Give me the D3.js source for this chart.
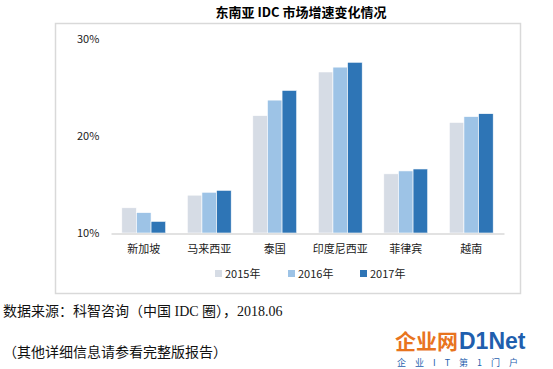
<!DOCTYPE html>
<html>
<head>
<meta charset="utf-8">
<script src="https://cdn.jsdelivr.net/npm/d3@7"></script>
<style>
  body { margin: 0; background: #fff; }
  text { font-family: "Noto Sans CJK SC", "Noto Sans", sans-serif; }
</style>
</head>
<body>
<div id="chart"></div>
<script>
const countries = ["新加坡", "马来西亚", "泰国", "印度尼西亚", "菲律宾", "越南"];
const years = ["2015年", "2016年", "2017年"];
const v2015 = [12.6, 13.9, 22.1, 26.6, 16.1, 21.4];
const v2016 = [12.1, 14.2, 23.7, 27.1, 16.4, 22.0];
const v2017 = [11.2, 14.4, 24.7, 27.6, 16.6, 22.3];
const yTicks = [10, 20, 30];
const colors = ["#D6DCE5", "#9DC3E6", "#2E75B6"];

const series = [v2015, v2016, v2017];
const rows = countries.map((c, i) => ({name: c, values: series.map(s => s[i])}));

const W = 553, H = 369;
const svg = d3.select("#chart").append("svg")
    .attr("width", W)
    .attr("height", H);

// outer frame + title
svg.append("rect")
    .attr("x", 55.5).attr("y", 23.5)
    .attr("width", 465).attr("height", 270)
    .attr("fill", "#fff")
    .attr("stroke", "#d9d9d9")
    .attr("stroke-width", 1.5);

svg.append("text")
    .attr("x", 301)
    .attr("y", 17)
    .attr("text-anchor", "middle")
    .style("font-size", "13px")
    .style("font-weight", "bold")
    .text("东南亚 IDC 市场增速变化情况");

const x0 = d3.scaleBand()
    .domain(countries)
    .range([111, 504])
    .paddingInner(0.33)
    .paddingOuter(0.165);

const x1 = d3.scaleBand()
    .domain(years)
    .range([0, x0.bandwidth()]);

const y = d3.scaleLinear()
    .domain([10, 30])
    .range([233, 39]);

// y tick labels
svg.append("g")
    .selectAll("text")
    .data(yTicks)
    .join("text")
    .attr("x", 77)
    .attr("y", d => y(d))
    .attr("dy", "0.35em")
    .style("font-size", "11px")
    .attr("fill", "#222")
    .text(d => d + "%");

// bars
svg.append("g")
    .selectAll("g")
    .data(rows)
    .join("g")
    .attr("transform", d => `translate(${x0(d.name)},0)`)
    .selectAll("rect")
    .data(d => d.values.map((v, i) => ({year: years[i], v: v, i: i})))
    .join("rect")
    .attr("x", d => x1(d.year))
    .attr("y", d => y(d.v))
    .attr("width", x1.bandwidth())
    .attr("height", d => y(10) - y(d.v))
    .attr("fill", d => colors[d.i])
    .attr("stroke", "#fff")
    .attr("stroke-width", 0.6);

// x axis
const xAxis = svg.append("g")
    .attr("transform", "translate(0,233.5)")
    .call(d3.axisBottom(x0).tickSize(0).tickPadding(12));
xAxis.select(".domain")
    .attr("stroke", "#d9d9d9")
    .attr("stroke-width", 1.5);
xAxis.selectAll("text")
    .style("font-size", "11px")
    .attr("fill", "#222")
    .style("font-family", '"Noto Sans CJK SC", sans-serif');

// legend
const legendX = [215, 288, 360];
const legend = svg.append("g")
    .selectAll("g")
    .data(years)
    .join("g")
    .attr("transform", (d, i) => `translate(${legendX[i]},274)`);
legend.append("rect")
    .attr("x", 0).attr("y", -4)
    .attr("width", 7).attr("height", 7)
    .attr("fill", (d, i) => colors[i]);
legend.append("text")
    .attr("x", 10)
    .attr("y", 0)
    .attr("dy", "0.35em")
    .style("font-size", "11px")
    .attr("fill", "#222")
    .text(d => d);

// source notes
svg.append("text")
    .attr("x", 3)
    .attr("y", 316)
    .style("font-size", "14px")
    .style("font-family", '"Liberation Serif", "Noto Sans CJK SC", serif')
    .attr("fill", "#111")
    .text("数据来源：科智咨询（中国 IDC 圈），2018.06");

svg.append("text")
    .attr("x", 3)
    .attr("y", 357)
    .style("font-size", "14px")
    .attr("fill", "#111")
    .text("（其他详细信息请参看完整版报告）");

// logo
svg.append("text")
    .attr("x", 395)
    .attr("y", 349)
    .style("font-size", "21px")
    .style("font-weight", "bold")
    .attr("fill", "#E8741E")
    .text("企业网");
svg.append("text")
    .attr("x", 459)
    .attr("y", 349)
    .style("font-size", "23px")
    .style("font-weight", "bold")
    .style("font-family", '"Liberation Sans", sans-serif')
    .attr("fill", "#1F5FAE")
    .text("D1Net");
svg.append("text")
    .attr("x", 397)
    .attr("y", 366)
    .style("font-size", "9px")
    .attr("fill", "#1F5FAE")
    .attr("letter-spacing", "9px")
    .text("企业IT第1门户");
</script>
</body>
</html>
